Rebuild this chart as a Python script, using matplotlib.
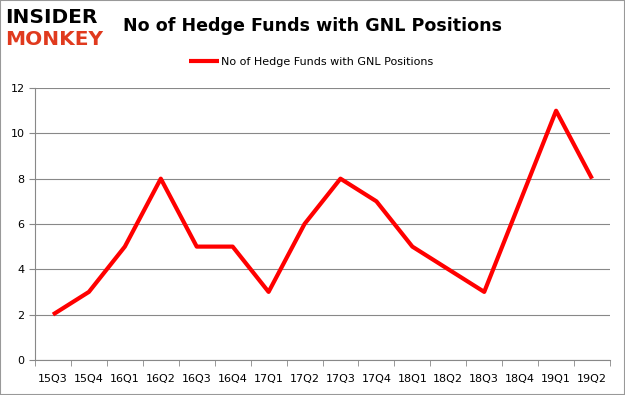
import matplotlib.pyplot as plt
from matplotlib.patches import Rectangle

quarters = ['15Q3', '15Q4', '16Q1', '16Q2', '16Q3', '16Q4', '17Q1', '17Q2',
            '17Q3', '17Q4', '18Q1', '18Q2', '18Q3', '18Q4', '19Q1', '19Q2']
funds = [2, 3, 5, 8, 5, 5, 3, 6, 8, 7, 5, 4, 3, 7, 11, 8]
series_name = 'No of Hedge Funds with GNL Positions'

fig = plt.figure(figsize=(6.25, 3.95), dpi=100)
ax = fig.add_axes([0.056, 0.089, 0.92, 0.688])

x = list(range(len(quarters)))
ax.plot(x, funds, color='#ff0000', lw=3, label=series_name, solid_capstyle='butt')

ax.set_xlim(-0.5, len(quarters) - 0.5)
ax.set_ylim(0, 12)
ax.set_yticks(range(0, 13, 2))
ax.set_xticks(x)
ax.set_xticklabels(quarters)
ax.set_xticks([i - 0.5 for i in range(len(quarters) + 1)], minor=True)
ax.tick_params(axis='x', which='major', length=0, pad=10, labelsize=8)
ax.tick_params(axis='x', which='minor', length=4, color='#888888')
ax.tick_params(axis='y', length=4, color='#888888', labelsize=8)
ax.grid(axis='y', color='#888888', lw=0.8)
ax.set_axisbelow(True)
for s in ['top', 'right']:
    ax.spines[s].set_visible(False)
for s in ['left', 'bottom']:
    ax.spines[s].set_color('#888888')

ax.legend(loc='upper center', bbox_to_anchor=(0.48, 1.152), frameon=False,
          fontsize=8, handlelength=2.7, handletextpad=0.2)

fig.text(0.5, 0.935, 'No of Hedge Funds with GNL Positions', ha='center',
         va='center', fontsize=12.6, fontweight='bold')
fig.text(0.008, 0.955, 'INSIDER', fontsize=14.5, fontweight='heavy', color='black',
         va='center', ha='left', family='DejaVu Sans')
fig.text(0.008, 0.9, 'MONKEY', fontsize=14.5, fontweight='heavy', color='#e03a1e',
         va='center', ha='left', family='DejaVu Sans')

fig.patches.append(Rectangle((0, 0), 1, 1, transform=fig.transFigure,
                             fill=False, edgecolor='#999999', lw=1.5))

fig.savefig('out.png', dpi=100)
